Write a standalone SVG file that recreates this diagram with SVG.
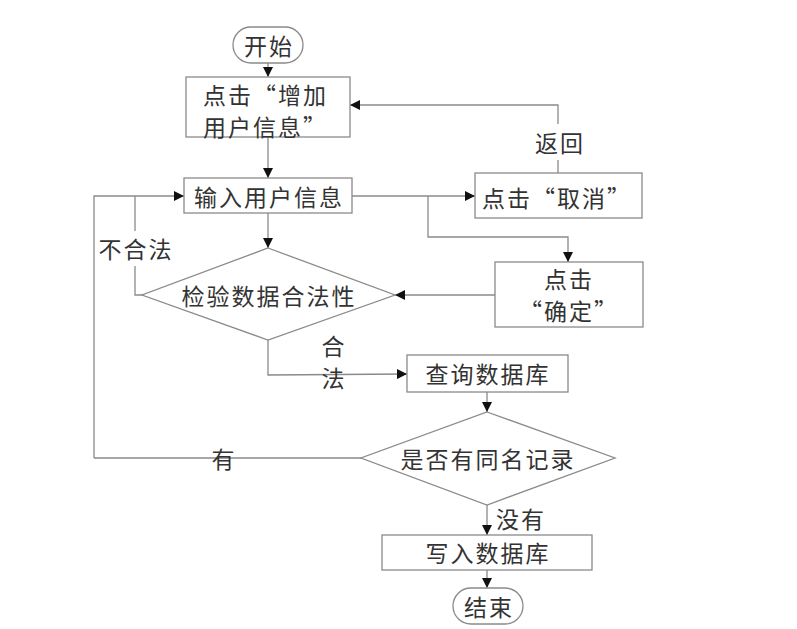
<svg xmlns="http://www.w3.org/2000/svg" width="797" height="629" viewBox="0 0 797 629">
<defs>
<marker id="arr" viewBox="0 0 10 10" refX="10" refY="5" markerWidth="10" markerHeight="10" markerUnits="userSpaceOnUse" orient="auto">
<path d="M0,0 L10,5 L0,10 Z" fill="#111"/>
</marker>
<style>
.shape{fill:#fff;stroke:#8a8a8a;stroke-width:1.3}
.ln{fill:none;stroke:#8a8a8a;stroke-width:1.3}
.ar{fill:none;stroke:#8a8a8a;stroke-width:1.3;marker-end:url(#arr)}
text{font-family:"Noto Sans CJK SC","Liberation Serif",sans-serif;font-size:23px;fill:#333;letter-spacing:2px;dominant-baseline:central}
.c{text-anchor:middle}
</style>
</defs>
<rect width="797" height="629" fill="#fff"/>
<g id="connectors">
<path class="ar" d="M268,63 L268,77"/>
<path class="ar" d="M268,137 L268,178"/>
<path class="ar" d="M268,213 L268,248"/>
<path class="ar" d="M352,196 L475,196"/>
<path class="ar" d="M428,196 L428,237 L568,237 L568,262"/>
<path class="ar" d="M495,295 L395,295"/>
<path class="ln" d="M558,173 L558,160"/>
<path class="ar" d="M558,124 L558,105 L350,105"/>
<path class="ln" d="M142,295 L135,295 L135,266"/>
<path class="ln" d="M135,231 L135,196"/>
<path class="ar" d="M94,458 L94,196 L184,196"/>
<path class="ar" d="M268,340 L268,375 L407,374"/>
<path class="ar" d="M487,392 L487,412"/>
<path class="ln" d="M361,458 L94,458"/>
<path class="ar" d="M487,505 L487,535"/>
<path class="ar" d="M487,570 L487,588"/>
</g>
<g id="start">
<rect class="shape" x="233" y="27" width="70" height="36" rx="18"/>
<text class="c" x="269" y="45">开始</text>
</g>
<g id="add-user">
<rect class="shape" x="186" y="77" width="164" height="60"/>
<text x="203" y="94">点击“增加</text>
<text x="203" y="126">用户信息”</text>
</g>
<g id="input-user">
<rect class="shape" x="184" y="178" width="168" height="35"/>
<text class="c" x="269" y="196">输入用户信息</text>
</g>
<g id="cancel">
<rect class="shape" x="475" y="173" width="167" height="45"/>
<text x="482" y="197">点击“取消”</text>
</g>
<g id="confirm">
<rect class="shape" x="495" y="262" width="148" height="65"/>
<text class="c" x="569" y="278">点击</text>
<text class="c" x="569" y="310">“确定”</text>
</g>
<g id="validate">
<polygon class="shape" points="268,248 395,295 268,340 142,295"/>
<text class="c" x="269" y="295">检验数据合法性</text>
</g>
<g id="query">
<rect class="shape" x="407" y="355" width="161" height="37"/>
<text class="c" x="488" y="373">查询数据库</text>
</g>
<g id="duplicate">
<polygon class="shape" points="487,412 615,458 487,505 361,458"/>
<text class="c" x="488" y="458">是否有同名记录</text>
</g>
<g id="write">
<rect class="shape" x="382" y="535" width="210" height="35"/>
<text class="c" x="488" y="552">写入数据库</text>
</g>
<g id="end">
<rect class="shape" x="453" y="588" width="70" height="36" rx="18"/>
<text class="c" x="489" y="606">结束</text>
</g>
<g id="labels">
<text class="c" x="560" y="142">返回</text>
<text class="c" x="136" y="248">不合法</text>
<text class="c" x="334" y="345">合</text>
<text class="c" x="334" y="377">法</text>
<text class="c" x="224" y="458">有</text>
<text class="c" x="521" y="518">没有</text>
</g>
</svg>
